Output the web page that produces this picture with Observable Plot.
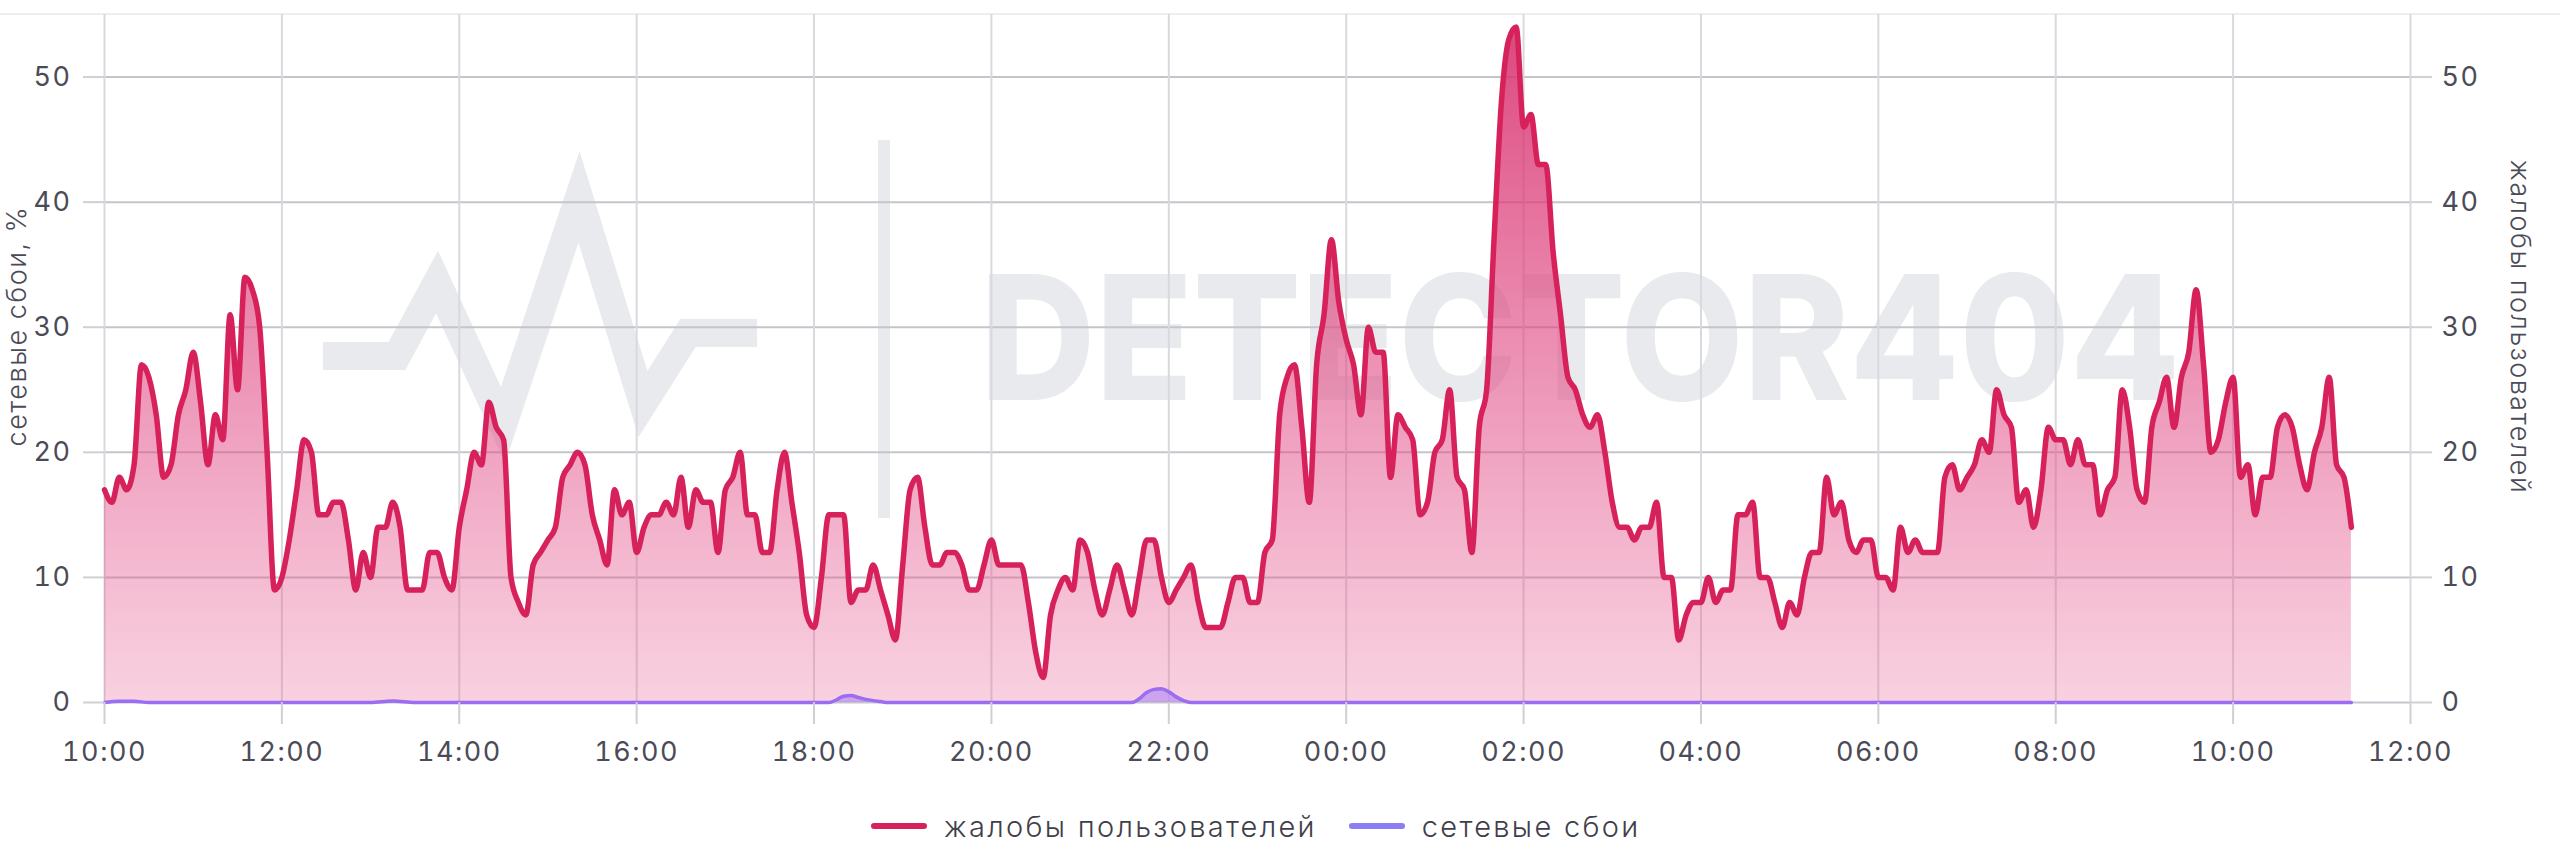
<!DOCTYPE html>
<html>
<head>
<meta charset="utf-8">
<script src="https://cdn.jsdelivr.net/npm/d3@7"></script>
<script src="https://cdn.jsdelivr.net/npm/@observablehq/plot@0.6"></script>
<style>
  html, body { margin: 0; padding: 0; background: #fff; width: 2560px; height: 852px; overflow: hidden; }
  #wrap { position: relative; width: 2560px; height: 852px; }
  #topline { position: absolute; left: 0; top: 13px; width: 2560px; height: 2px; background: #eeeef1; }
  #chart { position: absolute; left: 0; top: 0; }
  #chart svg text { letter-spacing: 1.5px; }
  #legend { position: absolute; left: 871px; top: 806px; height: 40px; display: flex; align-items: center;
            font-family: Inter, sans-serif; font-weight: 300; font-size: 29px; color: #3f3f4a; letter-spacing: 2.3px; }
  .item { display: flex; align-items: center; }
  .sw { width: 56px; height: 6px; border-radius: 3px; margin-right: 17px; }
  .item + .item { margin-left: 32px; }
</style>
</head>
<body>
<div id="wrap">
  <div id="topline"></div>
  <div id="chart"></div>
  <div id="legend"></div>
</div>
<script>
// ---- data ----
const startLabel = "10:00";
const stepMinutes = 5;
// user complaints, one value every 5 minutes from 10:00 to 11:20 next day
const complaints = [
  17,16,18,17,19,27,26,23,18,19,23,25,   // 10:00
  28,24,19,23,21,31,25,34,33,30,20,9,    // 11:00
  10,13,17,21,20,15,15,16,16,13,9,12,    // 12:00
  10,14,14,16,14,9,9,9,12,12,10,9,       // 13:00
  14,17,20,19,24,22,21,10,8,7,11,12,     // 14:00
  13,14,18,19,20,19,15,13,11,17,15,16,   // 15:00
  12,14,15,15,16,15,18,14,17,16,16,12,   // 16:00
  17,18,20,15,15,12,12,17,20,16,12,7,    // 17:00
  6,10,15,15,15,8,9,9,11,9,7,5,          // 18:00
  11,17,18,14,11,11,12,12,11,9,9,11,     // 19:00
  13,11,11,11,11,8,4,2,7,9,10,9,         // 20:00
  13,12,9,7,9,11,9,7,10,13,13,10,        // 21:00
  8,9,10,11,8,6,6,6,8,10,10,8,           // 22:00
  8,12,13,23,26,27,22,16,27,31,37,32,    // 23:00
  29,27,23,30,28,28,18,23,22,21,15,16,   // 00:00
  20,21,25,18,17,12,22,25,37,48,53,54,   // 01:00
  46,47,43,43,36,31,26,25,23,22,23,20,   // 02:00
  16,14,14,13,14,14,16,10,10,5,7,8,      // 03:00
  8,10,8,9,9,15,15,16,10,10,8,6,         // 04:00
  8,7,10,12,12,18,15,16,13,12,13,13,     // 05:00
  10,10,9,14,12,13,12,12,12,18,19,17,    // 06:00
  18,19,21,20,25,23,22,16,17,14,17,22,   // 07:00
  21,21,19,21,19,19,15,17,18,25,22,17,   // 08:00
  16,22,24,26,22,26,28,33,27,20,21,24,   // 09:00
  26,18,19,15,18,18,22,23,22,19,17,20,   // 10:00
  22,26,19,18,14                         // 11:00
];
// network failures, %: minutes after 10:00 and values
const outageMinutes = [0, 10, 20, 30, 180, 195, 210, 490, 495, 500, 505, 510, 515, 520, 525, 530,
                       695, 700, 705, 710, 715, 720, 725, 730, 735, 1520];
const outageValues  = [0, 0.1, 0.1, 0, 0, 0.12, 0, 0, 0.2, 0.5, 0.55, 0.4, 0.25, 0.15, 0.08, 0,
                       0, 0.3, 0.8, 1.05, 1.1, 0.85, 0.45, 0.15, 0, 0];
const yTicks = [0, 10, 20, 30, 40, 50];
const xTickLabels = ["10:00","12:00","14:00","16:00","18:00","20:00","22:00",
                     "00:00","02:00","04:00","06:00","08:00","10:00","12:00"];
const seriesNames = ["жалобы пользователей", "сетевые сбои"];
const seriesColors = ["#d6215b", "#8b7df3"];
const leftTitle = "сетевые сбои, %";
const rightTitle = "жалобы пользователей";
const watermark = "DETECTOR404";

// ---- build ----
const t0 = Date.UTC(2024, 0, 1, 10, 0);
const complaintsData = complaints.map((v, i) => ({t: new Date(t0 + i * stepMinutes * 60000), v}));
const outageData = outageMinutes.map((m, i) => ({t: new Date(t0 + m * 60000), v: outageValues[i]}));
const xTicks = xTickLabels.map((_, i) => new Date(t0 + i * 2 * 3600000));
const xLabel = d => xTickLabels[xTicks.findIndex(t => +t === +d)];

const gridColor = "#cfd0d5";
const textColor = "#4b4b57";

const chart = Plot.plot({
  width: 2560,
  height: 790,
  marginLeft: 104,
  marginRight: 150,
  marginTop: 14,
  marginBottom: 88,
  style: {fontFamily: "Inter, sans-serif", fontSize: "27px", color: textColor, background: "transparent", overflow: "visible"},
  x: {type: "utc", domain: [xTicks[0], xTicks[xTicks.length - 1]], axis: null},
  y: {domain: [0, 55], axis: null},
  marks: [
    Plot.ruleY(yTicks, {stroke: "#c4c5cb", strokeWidth: 2}),
    Plot.ruleX(xTicks, {stroke: "#d8d9de", strokeWidth: 2}),
    Plot.areaY(complaintsData, {x: "t", y: "v", curve: "monotone-x", fill: "url(#pinkGrad)"}),
    Plot.areaY(outageData, {x: "t", y: "v", curve: "monotone-x", fill: "#b48cf6", fillOpacity: 0.65}),
    Plot.lineY(complaintsData, {x: "t", y: "v", curve: "monotone-x", stroke: seriesColors[0], strokeWidth: 5.5}),
    Plot.lineY(outageData, {x: "t", y: "v", curve: "monotone-x", stroke: "#9a6df2", strokeWidth: 3.5}),
    Plot.axisX({ticks: xTicks, tickFormat: xLabel, tickSize: 22, tickPadding: 17, stroke: gridColor, strokeWidth: 2, fill: textColor, label: null}),
    Plot.axisY({anchor: "left", ticks: yTicks, tickSize: 21, tickPadding: 12, stroke: gridColor, strokeWidth: 2, fill: textColor, label: null}),
    Plot.axisY({anchor: "right", ticks: yTicks, tickSize: 21, tickPadding: 10, stroke: gridColor, strokeWidth: 2, fill: textColor, label: null})
  ]
});
document.getElementById("chart").appendChild(chart);

const svg = d3.select(chart);
// watermark (behind everything)
const wm = svg.insert("g", ":first-child").attr("fill", "#e9eaed");
wm.append("polyline")
  .attr("points", "323,356 397,356 437,282 503,425 579,197 643,404 688,333 757,333")
  .attr("fill", "none").attr("stroke", "#e9eaed").attr("stroke-width", 28).attr("stroke-linejoin", "miter");
wm.append("rect").attr("x", 878).attr("y", 140).attr("width", 12).attr("height", 378);
wm.append("text").text(watermark)
  .attr("x", 980).attr("y", 400)
  .attr("text-anchor", "start")
  .attr("font-family", "Inter, sans-serif").attr("font-weight", 800).attr("font-size", 173)
  .attr("textLength", 1200).attr("lengthAdjust", "spacingAndGlyphs").style("letter-spacing", "0px");
// gradient for complaints area
const defs = svg.insert("defs", ":first-child");
const grad = defs.append("linearGradient").attr("id", "pinkGrad")
  .attr("x1", 0).attr("y1", 0).attr("x2", 0).attr("y2", 1);
grad.append("stop").attr("offset", "0%").attr("stop-color", "#d8336f").attr("stop-opacity", 0.9);
grad.append("stop").attr("offset", "100%").attr("stop-color", "#e75b92").attr("stop-opacity", 0.28);
// axis titles
svg.append("text").text(leftTitle)
  .attr("transform", "translate(26,326) rotate(-90)")
  .attr("text-anchor", "middle").attr("fill", textColor)
  .attr("font-size", 27).attr("font-weight", 300);
svg.append("text").text(rightTitle)
  .attr("transform", "translate(2511,327) rotate(90)")
  .attr("text-anchor", "middle").attr("fill", textColor)
  .attr("font-size", 27).attr("font-weight", 300);

// legend
const legend = d3.select("#legend");
seriesNames.forEach((name, i) => {
  const item = legend.append("div").attr("class", "item");
  item.append("div").attr("class", "sw").style("background", seriesColors[i]);
  item.append("span").text(name);
});
</script>
</body>
</html>
